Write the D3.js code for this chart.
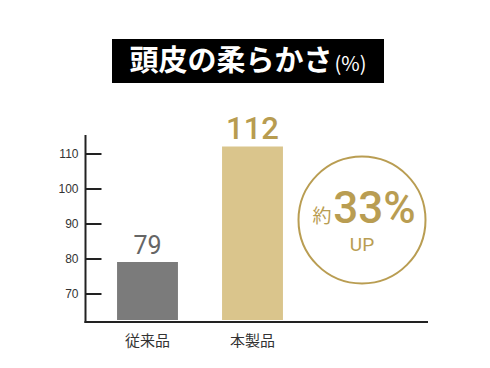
<!DOCTYPE html>
<html>
<head>
<meta charset="utf-8">
<script src="https://cdn.jsdelivr.net/npm/d3@7"></script>
<style>
  body { margin: 0; background: #fff; }
  text { font-family: "Noto Sans CJK JP", "Noto Sans", sans-serif; }
</style>
</head>
<body>
<div id="chart"></div>
<script>
// chart data
const categories = ["従来品", "本製品"];
const values = [79, 112];
const yTicks = [70, 80, 90, 100, 110];
const titleMain = "頭皮の柔らかさ";
const titleUnit = "(%)";
const badgeText = ["約", "33%", "UP"];

const width = 490, height = 368;

const svg = d3.select("#chart")
  .append("svg")
  .attr("width", width)
  .attr("height", height);

// title block
svg.append("rect")
  .attr("x", 112).attr("y", 39)
  .attr("width", 272).attr("height", 44)
  .attr("fill", "#000");

const title = svg.append("text")
  .attr("x", 248).attr("y", 71)
  .attr("text-anchor", "middle")
  .attr("fill", "#fff")
  .style("font-weight", "bold");
title.append("tspan").style("font-size", "29px").text(titleMain);
title.append("tspan").attr("dx", 2).style("font-size", "20px").style("font-weight", "normal").text(titleUnit);

// scales
const y = d3.scaleLinear().domain([62, 115]).range([321.5, 136]);
const x = d3.scaleBand()
  .domain(categories)
  .range([95, 305])
  .paddingInner(0.42)
  .paddingOuter(0.21);

const barColors = ["#7b7b7b", "#dac58c"];
const labelColors = ["#666666", "#b89c50"];
const labelSizes = ["25px", "31px"];

// bars
svg.selectAll("rect.bar")
  .data(values)
  .join("rect")
  .attr("class", "bar")
  .attr("x", (d, i) => x(categories[i]))
  .attr("y", d => y(d))
  .attr("width", x.bandwidth())
  .attr("height", d => y(62) - 1.5 - y(d))
  .attr("fill", (d, i) => barColors[i]);

// value labels
svg.selectAll("text.val")
  .data(values)
  .join("text")
  .attr("class", "val")
  .attr("x", (d, i) => x(categories[i]) + x.bandwidth() / 2)
  .attr("y", d => y(d) - 8)
  .attr("text-anchor", "middle")
  .attr("fill", (d, i) => labelColors[i])
  .style("font-size", (d, i) => labelSizes[i])
  .style("font-family", "Roboto, sans-serif")
  .style("font-weight", (d, i) => i === 1 ? 500 : 400)
  .text(d => d);

// y axis
const yAxis = svg.append("g")
  .attr("transform", "translate(85.5,0)")
  .call(d3.axisLeft(y).tickValues(yTicks).tickSize(-16).tickPadding(7));
yAxis.select(".domain").remove();
yAxis.selectAll(".tick line").attr("stroke", "#222").attr("stroke-width", 2);
yAxis.selectAll(".tick text")
  .attr("fill", "#333")
  .style("font-size", "12px")
  .style("font-family", "'Liberation Sans', Arial, sans-serif");

// axis lines
svg.append("line")
  .attr("x1", 85.5).attr("x2", 85.5)
  .attr("y1", 135).attr("y2", 323)
  .attr("stroke", "#222").attr("stroke-width", 2);
svg.append("line")
  .attr("x1", 84.5).attr("x2", 428)
  .attr("y1", 322).attr("y2", 322)
  .attr("stroke", "#222").attr("stroke-width", 2);

// category labels
svg.selectAll("text.cat")
  .data(categories)
  .join("text")
  .attr("class", "cat")
  .attr("x", d => x(d) + x.bandwidth() / 2)
  .attr("y", 346)
  .attr("text-anchor", "middle")
  .attr("fill", "#333")
  .style("font-size", "15px")
  .text(d => d);

// badge circle
const gold = "#b99d52";
svg.append("circle")
  .attr("cx", 362).attr("cy", 220).attr("r", 63.5)
  .attr("fill", "none")
  .attr("stroke", gold)
  .attr("stroke-width", 2);

svg.append("text")
  .attr("x", 322).attr("y", 223)
  .attr("text-anchor", "middle")
  .attr("fill", gold)
  .style("font-size", "19px")
  .text(badgeText[0]);

svg.append("text")
  .attr("x", 374.5).attr("y", 223)
  .attr("text-anchor", "middle")
  .attr("fill", gold)
  .style("font-size", "44px")
  .style("font-weight", 500)
  .style("font-family", "Roboto, sans-serif")
  .text(badgeText[1]);

svg.append("text")
  .attr("x", 362).attr("y", 251)
  .attr("text-anchor", "middle")
  .attr("fill", gold)
  .style("font-size", "19px")
  .style("font-family", "Roboto, sans-serif")
  .text(badgeText[2]);
</script>
</body>
</html>
